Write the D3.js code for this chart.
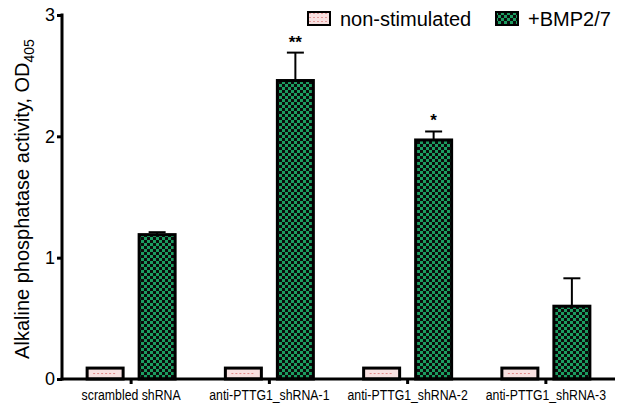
<!DOCTYPE html>
<html><head><meta charset="utf-8">
<script src="https://cdn.jsdelivr.net/npm/d3@7"></script>
<style>body{margin:0;background:#fff}svg{display:block}</style>
</head><body>
<script>
const categories = ["scrambled shRNA","anti-PTTG1_shRNA-1","anti-PTTG1_shRNA-2","anti-PTTG1_shRNA-3"];
const seriesNames = ["non-stimulated","+BMP2/7"];
const nonStim = [0.09,0.09,0.09,0.09];
const bmp = [1.19,2.46,1.97,0.60];
const bmpErr = [0.02,0.23,0.07,0.23];
const stars = ["","**","*",""];
const yTicks = [0,1,2,3];

const W=630,H=410;
const svg=d3.select("body").append("svg").attr("width",W).attr("height",H);
const defs=svg.append("defs");
const gp=defs.append("pattern").attr("id","chk").attr("patternUnits","userSpaceOnUse").attr("width",6).attr("height",6);
gp.append("rect").attr("width",6).attr("height",6).attr("fill","#1c9c60");
gp.append("rect").attr("width",3).attr("height",3).attr("fill","#0b0b0b");
gp.append("rect").attr("x",3).attr("y",3).attr("width",3).attr("height",3).attr("fill","#0b0b0b");
const pp=defs.append("pattern").attr("id","pnk").attr("patternUnits","userSpaceOnUse").attr("width",4).attr("height",4);
pp.append("rect").attr("width",4).attr("height",4).attr("fill","#f8e1e1");
pp.append("rect").attr("x",1).attr("y",1).attr("width",2).attr("height",1).attr("fill","#e39a9a");

const x=d3.scaleBand().domain(categories).range([62,615]).padding(0);
const y=d3.scaleLinear().domain([0,3]).range([379,15]);
const barW=36, gap=16;

const g=svg.append("g");
categories.forEach((c,i)=>{
  const cx=x(c)+x.bandwidth()/2;
  const pink=g.append("g");
  pink.append("rect").attr("x",cx-gap/2-barW).attr("y",y(nonStim[i])).attr("width",barW).attr("height",y(0)-y(nonStim[i]))
    .attr("fill","#f8e1e1").attr("stroke","#000").attr("stroke-width",3);
  const my=(y(nonStim[i])+y(0))/2;
  pink.append("line").attr("x1",cx-gap/2-barW+6).attr("x2",cx-gap/2-6).attr("y1",my).attr("y2",my)
    .attr("stroke","#e08a8a").attr("stroke-width",1).attr("stroke-dasharray","2,2");
  const ex=cx+gap/2+barW/2;
  g.append("line").attr("x1",ex).attr("x2",ex).attr("y1",y(bmp[i])).attr("y2",y(bmp[i]+bmpErr[i])).attr("stroke","#000").attr("stroke-width",2);
  g.append("line").attr("x1",ex-8.5).attr("x2",ex+8.5).attr("y1",y(bmp[i]+bmpErr[i])).attr("y2",y(bmp[i]+bmpErr[i])).attr("stroke","#000").attr("stroke-width",2);
  g.append("rect").attr("x",cx+gap/2).attr("y",y(bmp[i])).attr("width",barW).attr("height",y(0)-y(bmp[i]))
    .attr("fill","url(#chk)").attr("stroke","#000").attr("stroke-width",3);
  if(stars[i]) g.append("text").attr("x",ex).attr("y",y(bmp[i]+bmpErr[i])-5).attr("text-anchor","middle")
    .attr("font-family","Liberation Sans, Arial, sans-serif").attr("font-size",17).attr("font-weight","bold").text(stars[i]);
});

const ya=svg.append("g").attr("transform","translate(62,0)")
  .call(d3.axisLeft(y).tickValues(yTicks).tickFormat(d3.format("d")).tickSize(5).tickPadding(2));
ya.select(".domain").attr("stroke-width",3).attr("d","M0,13.5V380.5");
ya.selectAll(".tick line").attr("stroke-width",3);
ya.selectAll("text").attr("font-family","Liberation Sans, Arial, sans-serif").attr("font-size",18).attr("fill","#000");

const xa=svg.append("g").attr("transform","translate(0,379)")
  .call(d3.axisBottom(x).tickSize(5).tickPadding(5));
xa.select(".domain").attr("stroke-width",3).attr("d","M60.5,0H615");
xa.selectAll(".tick line").attr("stroke-width",3);
xa.selectAll("text").attr("font-family","Liberation Sans, Arial, sans-serif").attr("font-size",15).attr("fill","#000")
  .attr("transform","scale(0.82,1)");

const yl=svg.append("text").attr("transform","translate(29,199) rotate(-90)").attr("text-anchor","middle")
  .attr("font-family","Liberation Sans, Arial, sans-serif").attr("font-size",20).attr("fill","#000");
yl.append("tspan").text("Alkaline phosphatase activity, OD");
yl.append("tspan").attr("font-size",14).attr("dy",5).text("405");

const lg=svg.append("g");
lg.append("rect").attr("x",308).attr("y",12).attr("width",22).attr("height",13).attr("fill","url(#pnk)").attr("stroke","#000").attr("stroke-width",2);
lg.append("text").attr("x",340).attr("y",26).attr("font-family","Liberation Sans, Arial, sans-serif").attr("font-size",20).text(seriesNames[0]);
lg.append("rect").attr("x",496).attr("y",12).attr("width",22).attr("height",13).attr("fill","url(#chk)").attr("stroke","#000").attr("stroke-width",2);
lg.append("text").attr("x",528).attr("y",26).attr("font-family","Liberation Sans, Arial, sans-serif").attr("font-size",20).text(seriesNames[1]);
</script>
</body></html>
